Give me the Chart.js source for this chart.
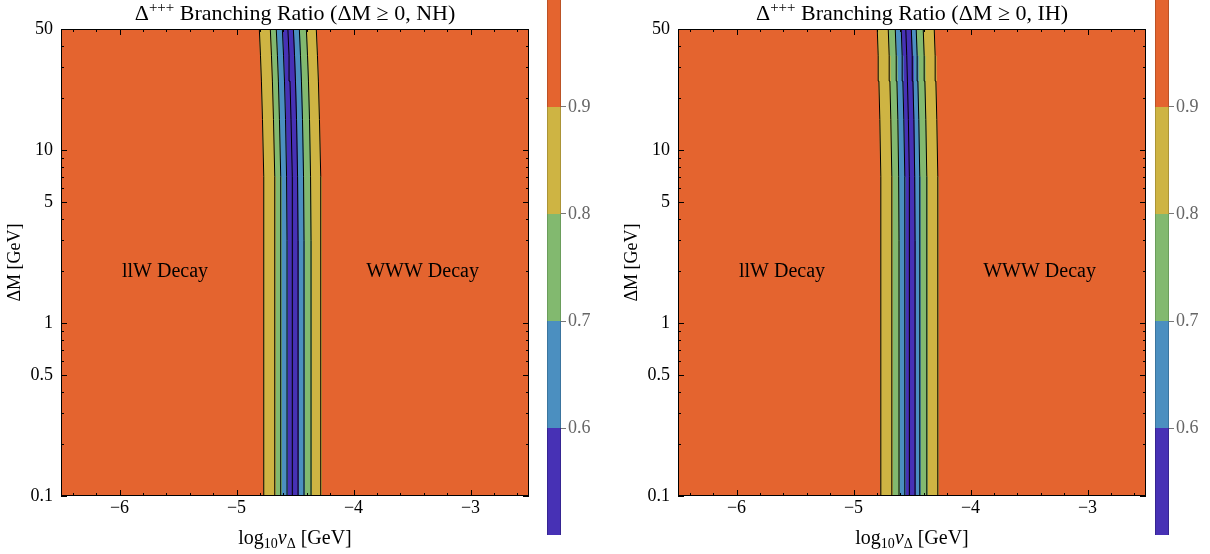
<!DOCTYPE html>
<html>
<head>
<meta charset="utf-8">
<script src="https://cdn.jsdelivr.net/npm/chart.js@4.4.1/dist/chart.umd.min.js"></script>
<style>
html, body { margin: 0; padding: 0; background: #fff; width: 1210px; height: 554px; overflow: hidden; }
canvas { position: absolute; top: 0; }
</style>
</head>
<body>
<canvas id="nhChart" width="540" height="554" style="left:0px"></canvas>
<canvas id="nhBar" width="70" height="554" style="left:540px"></canvas>
<canvas id="ihChart" width="538" height="554" style="left:617px"></canvas>
<canvas id="ihBar" width="62" height="554" style="left:1148px"></canvas>
<script>
// axis ranges and ticks
const xRange = [-6.5, -2.5];
const yRange = [0.1, 50];
const xTicks = [-6, -5, -4, -3];
const xTickLabels = ['\u22126', '\u22125', '\u22124', '\u22123'];
const yTicks = [0.1, 0.5, 1, 5, 10, 50];
const yTickLabels = ['0.1', '0.5', '1', '5', '10', '50'];

// contour lines: log10 v at each Delta M level
const dMLevels = [0.1, 3, 7, 15, 25, 35, 50];
const nhEdges = [
    [-4.765, -4.765, -4.769, -4.778, -4.787, -4.795, -4.805],
    [-4.671, -4.671, -4.675, -4.684, -4.693, -4.701, -4.711],
    [-4.620, -4.620, -4.624, -4.633, -4.642, -4.650, -4.660],
    [-4.568, -4.568, -4.572, -4.581, -4.590, -4.598, -4.608],
    [-4.521, -4.521, -4.525, -4.534, -4.543, -4.551, -4.561],
    [-4.474, -4.474, -4.478, -4.487, -4.496, -4.504, -4.514],
    [-4.423, -4.423, -4.427, -4.436, -4.445, -4.453, -4.463],
    [-4.363, -4.363, -4.367, -4.376, -4.385, -4.393, -4.403],
    [-4.278, -4.278, -4.282, -4.291, -4.300, -4.308, -4.318]
];
const ihEdges = [
    [-4.765, -4.765, -4.768, -4.775, -4.783, -4.789, -4.797],
    [-4.671, -4.671, -4.674, -4.681, -4.689, -4.695, -4.703],
    [-4.611, -4.611, -4.614, -4.621, -4.629, -4.635, -4.643],
    [-4.560, -4.560, -4.563, -4.570, -4.578, -4.584, -4.592],
    [-4.521, -4.521, -4.524, -4.531, -4.539, -4.545, -4.553],
    [-4.474, -4.474, -4.477, -4.484, -4.492, -4.498, -4.506],
    [-4.432, -4.432, -4.435, -4.442, -4.450, -4.456, -4.464],
    [-4.372, -4.372, -4.375, -4.382, -4.390, -4.396, -4.404],
    [-4.278, -4.278, -4.281, -4.288, -4.296, -4.302, -4.310]
];

const orange = '#E4642F';
const yellow = '#CEB443';
const green = '#82B96F';
const blue = '#4B8FC0';
const purple = '#4731B5';
const bandColors = [yellow, green, blue, purple, purple, blue, green, yellow];

// colorbar
const cbLevels = [0.5, 0.6, 0.7, 0.8, 0.9, 1.0];
const cbColors = [purple, blue, green, yellow, orange];
const cbEdgeColors = ['#2e2080', '#33688e', '#5f8f52', '#9a8530', '#a84a22'];
const cbTicks = [0.6, 0.7, 0.8, 0.9];
const cbTickLabels = ['0.6', '0.7', '0.8', '0.9'];

const labelPos = { llw: [-5.611, 1.97], www: [-3.41, 1.97] };
const serif = '"Liberation Serif", "Times New Roman", serif';

function edgePoints(xs) {
    return xs.map((x, i) => ({ x: x, y: dMLevels[i] }));
}
function bandPoints(leftXs, rightXs) {
    const up = edgePoints(leftXs);
    const down = edgePoints(rightXs).reverse();
    return up.concat(down, [up[0]]);
}

function drawRuns(ctx, runs, cx, baseY) {
    let total = 0;
    runs.forEach(r => {
        ctx.font = (r.italic ? 'italic ' : '') + r.size + 'px ' + serif;
        r.w = ctx.measureText(r.t).width;
        total += r.w;
    });
    let x = cx - total / 2;
    ctx.textAlign = 'left';
    ctx.textBaseline = 'alphabetic';
    runs.forEach(r => {
        ctx.font = (r.italic ? 'italic ' : '') + r.size + 'px ' + serif;
        ctx.fillText(r.t, x, baseY + (r.dy || 0));
        x += r.w;
    });
}

const framePlugin = {
    id: 'frame',
    afterDatasetsDraw(chart) {
        const ctx = chart.ctx;
        const a = chart.chartArea;
        const xs = chart.scales.x, ys = chart.scales.y;
        ctx.save();
        ctx.strokeStyle = '#000';
        ctx.lineWidth = 1;
        ctx.strokeRect(a.left + 0.5, a.top + 0.5, a.right - a.left - 1, a.bottom - a.top - 1);
        ctx.beginPath();
        // x ticks, inward on bottom and top
        for (let v = -6.4; v < -2.5; v += 0.2) {
            const major = Math.abs(v - Math.round(v)) < 1e-6;
            const len = major ? 6 : 3;
            const px = Math.round(xs.getPixelForValue(v)) + 0.5;
            ctx.moveTo(px, a.bottom); ctx.lineTo(px, a.bottom - len);
            ctx.moveTo(px, a.top); ctx.lineTo(px, a.top + len);
        }
        // y ticks, inward on left and right
        const yMinor = [0.2, 0.3, 0.4, 0.6, 0.7, 0.8, 0.9, 2, 3, 4, 6, 7, 8, 9, 20, 30, 40];
        yTicks.concat(yMinor).forEach(v => {
            const len = yTicks.includes(v) ? 6 : 3;
            const py = Math.round(ys.getPixelForValue(v)) + 0.5;
            ctx.moveTo(a.left, py); ctx.lineTo(a.left + len, py);
            ctx.moveTo(a.right, py); ctx.lineTo(a.right - len, py);
        });
        ctx.stroke();
        ctx.restore();
    }
};

function textPlugin(tag) {
    return {
        id: 'texts',
        afterDraw(chart) {
            const ctx = chart.ctx;
            const a = chart.chartArea;
            const xs = chart.scales.x, ys = chart.scales.y;
            const cx = (a.left + a.right) / 2;
            ctx.save();
            ctx.fillStyle = '#000';
            drawRuns(ctx, [
                { t: '\u0394', size: 22 },
                { t: '+++', size: 15, dy: -8 },
                { t: ' Branching Ratio (\u0394M \u2265 0, ' + tag + ')', size: 22 }
            ], cx, 20);
            drawRuns(ctx, [
                { t: 'log', size: 20 },
                { t: '10', size: 14, dy: 4 },
                { t: 'v', size: 20, italic: true },
                { t: '\u0394', size: 14, dy: 4 },
                { t: ' [GeV]', size: 20 }
            ], cx, 544);
            ctx.save();
            ctx.translate(20, (a.top + a.bottom) / 2);
            ctx.rotate(-Math.PI / 2);
            drawRuns(ctx, [{ t: '\u0394M [GeV]', size: 18 }], 0, 0);
            ctx.restore();
            ctx.font = '20px ' + serif;
            ctx.textAlign = 'center';
            ctx.textBaseline = 'middle';
            ctx.fillText('llW Decay', xs.getPixelForValue(labelPos.llw[0]), ys.getPixelForValue(labelPos.llw[1]));
            ctx.fillText('WWW Decay', xs.getPixelForValue(labelPos.www[0]), ys.getPixelForValue(labelPos.www[1]));
            ctx.restore();
        }
    };
}

function makePanel(canvasId, edges, tag, padRight) {
    const datasets = [];
    // contour lines on top
    edges.forEach(xs => {
        datasets.push({
            data: edgePoints(xs), showLine: true, pointRadius: 0,
            borderColor: '#000', borderWidth: 1, fill: false, order: 0
        });
    });
    // coloured bands
    for (let i = 0; i < edges.length - 1; i++) {
        datasets.push({
            data: bandPoints(edges[i], edges[i + 1]), showLine: true, pointRadius: 0,
            borderColor: bandColors[i], backgroundColor: bandColors[i], borderWidth: 1,
            fill: 'shape', order: 1
        });
    }
    const leftWall = dMLevels.map(() => xRange[0]);
    const rightWall = dMLevels.map(() => xRange[1]);
    [[leftWall, edges[0]], [edges[edges.length - 1], rightWall]].forEach(pair => {
        datasets.push({
            data: bandPoints(pair[0], pair[1]), showLine: true, pointRadius: 0,
            borderColor: orange, backgroundColor: orange, borderWidth: 1,
            fill: 'shape', order: 2
        });
    });

    return new Chart(document.getElementById(canvasId), {
        type: 'scatter',
        data: { datasets: datasets },
        options: {
            responsive: false,
            animation: false,
            devicePixelRatio: 1,
            layout: { padding: { left: 0, right: padRight, top: 29, bottom: 0 } },
            plugins: { legend: { display: false }, tooltip: { enabled: false } },
            scales: {
                x: {
                    type: 'linear', min: xRange[0], max: xRange[1],
                    afterBuildTicks: s => { s.ticks = xTicks.map(v => ({ value: v })); },
                    afterFit: s => { s.height = 58; },
                    grid: { display: false, drawTicks: false },
                    border: { display: false },
                    ticks: {
                        padding: 1, color: '#000', font: { family: serif, size: 18 },
                        maxRotation: 0, autoSkip: false,
                        callback: (v, i) => xTickLabels[i]
                    }
                },
                y: {
                    type: 'logarithmic', min: yRange[0], max: yRange[1],
                    afterBuildTicks: s => { s.ticks = yTicks.map(v => ({ value: v })); },
                    afterFit: s => { s.width = 61; },
                    grid: { display: false, drawTicks: false },
                    border: { display: false },
                    ticks: {
                        padding: 8, color: '#000', font: { family: serif, size: 18 },
                        autoSkip: false,
                        callback: (v, i) => yTickLabels[i]
                    }
                }
            }
        },
        plugins: [framePlugin, textPlugin(tag)]
    });
}

function makeColorbar(canvasId, axisWidth) {
    return new Chart(document.getElementById(canvasId), {
        type: 'bar',
        data: {
            labels: [''],
            datasets: cbColors.map((c, i) => ({
                data: [[cbLevels[i], cbLevels[i + 1]]],
                backgroundColor: c,
                borderColor: cbEdgeColors[i],
                borderWidth: { left: 1, right: 1, top: 0, bottom: 0 },
                borderSkipped: false,
                barPercentage: 1,
                categoryPercentage: 1
            }))
        },
        options: {
            responsive: false,
            animation: false,
            devicePixelRatio: 1,
            layout: { padding: { left: 7, right: 0, top: 0, bottom: 19 } },
            plugins: { legend: { display: false }, tooltip: { enabled: false } },
            scales: {
                x: { display: false, stacked: true },
                y: {
                    position: 'right', min: cbLevels[0], max: cbLevels[cbLevels.length - 1],
                    afterBuildTicks: s => { s.ticks = cbTicks.map(v => ({ value: v })); },
                    afterFit: s => { s.width = axisWidth; s.paddingTop = 0; s.paddingBottom = 0; },
                    grid: { drawOnChartArea: false, drawTicks: true, tickLength: 5, color: '#777' },
                    border: { display: false },
                    ticks: {
                        padding: 2, color: '#666', font: { family: serif, size: 18 },
                        callback: (v, i) => cbTickLabels[i]
                    }
                }
            }
        }
    });
}

makePanel('nhChart', nhEdges, 'NH', 11);
makeColorbar('nhBar', 49);
makePanel('ihChart', ihEdges, 'IH', 9);
makeColorbar('ihBar', 41);
</script>
</body>
</html>
